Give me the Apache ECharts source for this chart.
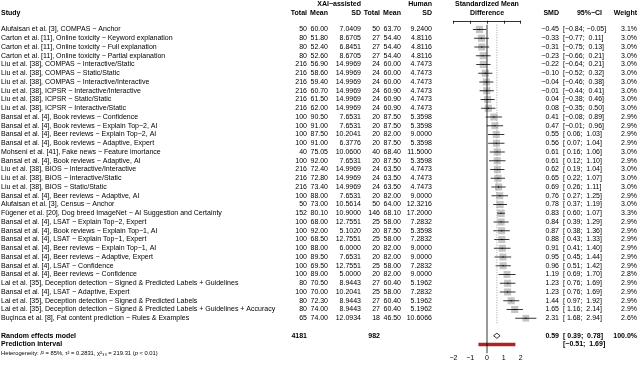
<!DOCTYPE html>
<html lang="en">
<head>
<meta charset="UTF-8">
<script src="https://cdn.jsdelivr.net/npm/echarts@6/dist/echarts.min.js"></script>
<style>html,body{margin:0;padding:0;background:#fff}#main{width:640px;height:367px}</style>
</head>
<body>
<div id="main"></div>
<script type="text/javascript">
// study rows, top to bottom
var studies = [
    'Alufaisan et al. [3], COMPAS − Anchor',
    'Carton et al. [11], Online toxicity − Keyword explanation',
    'Carton et al. [11], Online toxicity − Full explanation',
    'Carton et al. [11], Online toxicity − Partial explanation',
    'Liu et al. [38], COMPAS − Interactive/Static',
    'Liu et al. [38], COMPAS − Static/Static',
    'Liu et al. [38], COMPAS − Interactive/Interactive',
    'Liu et al. [38], ICPSR − Interactive/Interactive',
    'Liu et al. [38], ICPSR − Static/Static',
    'Liu et al. [38], ICPSR − Interactive/Static',
    'Bansal et al. [4], Book reviews − Confidence',
    'Bansal et al. [4], Book reviews − Explain Top−2, AI',
    'Bansal et al. [4], Beer reviews − Explain Top−2, AI',
    'Bansal et al. [4], Book reviews − Adaptive, Expert',
    'Mohseni et al. [41], Fake news − Feature imortance',
    'Bansal et al. [4], Book reviews − Adaptive, AI',
    'Liu et al. [38], BIOS − Interactive/Interactive',
    'Liu et al. [38], BIOS − Interactive/Static',
    'Liu et al. [38], BIOS − Static/Static',
    'Bansal et al. [4], Beer reviews − Adaptive, AI',
    'Alufaisan et al. [3], Census − Anchor',
    'Fügener et al. [20], Dog breed ImageNet − AI Suggestion and Certainty',
    'Bansal et al. [4], LSAT − Explain Top−2, Expert',
    'Bansal et al. [4], Book reviews − Explain Top−1, AI',
    'Bansal et al. [4], LSAT − Explain Top−1, Expert',
    'Bansal et al. [4], Beer reviews − Explain Top−1, AI',
    'Bansal et al. [4], Beer reviews − Adaptive, Expert',
    'Bansal et al. [4], LSAT − Confidence',
    'Bansal et al. [4], Beer reviews − Confidence',
    'Lai et al. [35], Deception detection − Signed & Predicted Labels + Guidelines',
    'Bansal et al. [4], LSAT − Adaptive, Expert',
    'Lai et al. [35], Deception detection − Signed & Predicted Labels',
    'Lai et al. [35], Deception detection − Signed & Predicted Labels + Guidelines + Accuracy',
    'Buçinca et al. [8], Fat content prediction − Rules & Examples'
];
var xaiTotal = [50, 80, 80, 80, 216, 216, 216, 216, 216, 216, 100, 100, 100, 100, 40, 100, 216, 216, 216, 100,
    50, 152, 100, 100, 100, 100, 100, 100, 100, 80, 100, 80, 80, 65];
var xaiMean = [60.00, 51.80, 52.40, 52.60, 56.90, 58.60, 59.40, 60.70, 61.50, 62.00, 90.50, 91.00, 87.50, 91.00,
    75.05, 92.00, 72.40, 72.80, 73.40, 88.00, 73.00, 80.10, 68.00, 92.00, 68.50, 88.00, 89.50, 69.50, 89.00,
    70.50, 70.00, 72.30, 74.00, 74.00];
var xaiSD = [7.0409, 8.6705, 6.8451, 8.6705, 14.9969, 14.9969, 14.9969, 14.9969, 14.9969, 14.9969, 7.6531,
    7.6531, 10.2041, 6.3776, 10.0600, 7.6531, 14.9969, 14.9969, 14.9969, 7.6531, 10.5614, 10.9000, 12.7551,
    5.1020, 12.7551, 6.0000, 7.6531, 12.7551, 5.0000, 8.9443, 10.2041, 8.9443, 8.9443, 12.0934];
var humTotal = [50, 27, 27, 27, 24, 24, 24, 24, 24, 24, 20, 20, 20, 20, 40, 20, 24, 24, 24, 20,
    50, 146, 25, 20, 25, 20, 20, 25, 20, 27, 25, 27, 27, 18];
var humMean = [63.70, 54.40, 54.40, 54.40, 60.00, 60.00, 60.00, 60.90, 60.90, 60.90, 87.50, 87.50, 82.00, 87.50,
    68.40, 87.50, 63.50, 63.50, 63.50, 82.00, 64.00, 68.10, 58.00, 87.50, 58.00, 82.00, 82.00, 58.00, 82.00,
    60.40, 58.00, 60.40, 60.40, 46.50];
var humSD = [9.2400, 4.8116, 4.8116, 4.8116, 4.7473, 4.7473, 4.7473, 4.7473, 4.7473, 4.7473, 5.3598, 5.3598,
    9.0000, 5.3598, 11.5000, 5.3598, 4.7473, 4.7473, 4.7473, 9.0000, 12.3216, 17.2000, 7.2832, 5.3598, 7.2832,
    9.0000, 9.0000, 7.2832, 9.0000, 5.1962, 7.2832, 5.1962, 5.1962, 10.6066];
var smd = [-0.45, -0.33, -0.31, -0.23, -0.22, -0.10, -0.04, -0.01, 0.04, 0.08, 0.41, 0.47, 0.55, 0.56, 0.61, 0.61,
    0.62, 0.65, 0.69, 0.76, 0.78, 0.83, 0.84, 0.87, 0.88, 0.91, 0.95, 0.96, 1.19, 1.23, 1.23, 1.44, 1.65, 2.31];
var ciLow = [-0.84, -0.77, -0.75, -0.66, -0.64, -0.52, -0.46, -0.44, -0.38, -0.35, -0.08, -0.01, 0.06, 0.07, 0.16,
    0.12, 0.19, 0.22, 0.26, 0.27, 0.37, 0.60, 0.39, 0.38, 0.43, 0.41, 0.45, 0.51, 0.69, 0.76, 0.76, 0.97, 1.16, 1.68];
var ciHigh = [-0.05, 0.11, 0.13, 0.21, 0.21, 0.32, 0.38, 0.41, 0.46, 0.50, 0.89, 0.96, 1.03, 1.04, 1.06, 1.10,
    1.04, 1.07, 1.11, 1.25, 1.19, 1.07, 1.29, 1.36, 1.33, 1.40, 1.44, 1.42, 1.70, 1.69, 1.69, 1.92, 2.14, 2.94];
var weight = [3.1, 3.0, 3.0, 3.0, 3.0, 3.0, 3.0, 3.0, 3.0, 3.0, 2.9, 2.9, 2.9, 2.9, 3.0, 2.9, 3.0, 3.0, 3.0, 2.9,
    3.0, 3.3, 2.9, 2.9, 2.9, 2.9, 2.9, 2.9, 2.8, 2.9, 2.9, 2.9, 2.9, 2.6];

// pooled results
var reXaiTotal = 4181;
var reHumTotal = 982;
var reSmd = 0.59, reLow = 0.39, reHigh = 0.78, reWeight = 100.0;
var piLow = -0.51, piHigh = 1.69;
var hetI2 = 85, hetTau2 = 0.2831, hetChi2 = 219.31, hetDf = 33;
var axisTicks = [-2, -1, 0, 1, 2];

// layout
var W = 640, H = 367;
var FONT = '"Liberation Sans", Arial, Helvetica, sans-serif';
var FS = 7;
var ROW_H = 8.75;
var FIRST_ROW_PX = 29.5;
var Y0 = 1 - FIRST_ROW_PX / ROW_H;
var N = studies.length;
var ROW_RE = N + 2, ROW_PI = N + 3, ROW_HET = N + 4;
var AXIS_PX = FIRST_ROW_PX + (ROW_HET - 1) * ROW_H - 2;
var ZERO_PX = 487, PX_UNIT = 16.8;
var BOX_MAX = 7.5;

var COL = {study: 1, xt: 307, xm: 328, xs: 361, ht: 380, hm: 401, hs: 432,
           forest: ZERO_PX, smd: 559, ci: 563, ciHead: 602, w: 637};

function fmt(v, d) {
    return (v < 0 ? '\u2212' : '') + Math.abs(v).toFixed(d);
}
function padAll(arr) {
    var m = 0;
    arr.forEach(function (s) { m = Math.max(m, s.length); });
    return arr.map(function (s) { while (s.length < m) s = ' ' + s; return s; });
}

var loStr = padAll(ciLow.concat([reLow, piLow]).map(function (v) { return fmt(v, 2); }));
var hiStr = padAll(ciHigh.concat([reHigh, piHigh]).map(function (v) { return fmt(v, 2); }));
var ciStr = loStr.map(function (s, i) { return '[' + s + '; ' + hiStr[i] + ']'; });

var rows = studies.map(function (s, i) { return i + 1; });

function textLayer(x, ys, texts, align, opt) {
    opt = opt || {};
    return {
        type: 'custom', xAxisIndex: 0, yAxisIndex: 0, silent: true, clip: false,
        data: ys.map(function (y) { return [x, y]; }),
        renderItem: function (params, api) {
            var p = api.coord([api.value(0), api.value(1)]);
            var style = {
                text: texts[params.dataIndex],
                align: align, verticalAlign: 'middle',
                textAlign: align, textVerticalAlign: 'middle',
                font: (opt.bold ? 'bold ' : '') + (opt.size || FS) + 'px ' + FONT,
                fill: '#000'
            };
            if (opt.rich) style.rich = opt.rich;
            return {type: 'text', x: p[0], y: p[1], style: style};
        }
    };
}

var series = [];
// headers
var H1 = -1.9, H2 = -0.85;
series.push(textLayer(COL.xs, [H1], ['XAI\u2212assisted'], 'right', {bold: true}));
series.push(textLayer(COL.hs, [H1], ['Human'], 'right', {bold: true}));
series.push(textLayer(COL.forest, [H1, H2], ['Standardized Mean', 'Difference'], 'center', {bold: true}));
series.push(textLayer(COL.study, [H2], ['Study'], 'left', {bold: true}));
series.push(textLayer(COL.xt, [H2], ['Total'], 'right', {bold: true}));
series.push(textLayer(COL.xm, [H2], ['Mean'], 'right', {bold: true}));
series.push(textLayer(COL.xs, [H2], ['SD'], 'right', {bold: true}));
series.push(textLayer(COL.ht, [H2], ['Total'], 'right', {bold: true}));
series.push(textLayer(COL.hm, [H2], ['Mean'], 'right', {bold: true}));
series.push(textLayer(COL.hs, [H2], ['SD'], 'right', {bold: true}));
series.push(textLayer(COL.smd, [H2], ['SMD'], 'right', {bold: true}));
series.push(textLayer(COL.ciHead, [H2], ['95%\u2212CI'], 'right', {bold: true}));
series.push(textLayer(COL.w, [H2], ['Weight'], 'right', {bold: true}));

// study columns
series.push(textLayer(COL.study, rows, studies, 'left'));
series.push(textLayer(COL.xt, rows, xaiTotal.map(String), 'right'));
series.push(textLayer(COL.xm, rows, xaiMean.map(function (v) { return v.toFixed(2); }), 'right'));
series.push(textLayer(COL.xs, rows, xaiSD.map(function (v) { return v.toFixed(4); }), 'right'));
series.push(textLayer(COL.ht, rows, humTotal.map(String), 'right'));
series.push(textLayer(COL.hm, rows, humMean.map(function (v) { return v.toFixed(2); }), 'right'));
series.push(textLayer(COL.hs, rows, humSD.map(function (v) { return v.toFixed(4); }), 'right'));
series.push(textLayer(COL.smd, rows, smd.map(function (v) { return fmt(v, 2); }), 'right'));
series.push(textLayer(COL.ci, rows, ciStr.slice(0, N), 'left'));
series.push(textLayer(COL.w, rows, weight.map(function (v) { return v.toFixed(1) + '%'; }), 'right'));

// pooled rows
series.push(textLayer(COL.study, [ROW_RE, ROW_PI], ['Random effects model', 'Prediction interval'], 'left', {bold: true}));
series.push(textLayer(COL.xt, [ROW_RE], [String(reXaiTotal)], 'right', {bold: true}));
series.push(textLayer(COL.ht, [ROW_RE], [String(reHumTotal)], 'right', {bold: true}));
series.push(textLayer(COL.smd, [ROW_RE], [fmt(reSmd, 2)], 'right', {bold: true}));
series.push(textLayer(COL.ci, [ROW_RE, ROW_PI], [ciStr[N], ciStr[N + 1]], 'left', {bold: true}));
series.push(textLayer(COL.w, [ROW_RE], [reWeight.toFixed(1) + '%'], 'right', {bold: true}));

var HS = 5.8;
var hetText = '{n|Heterogeneity: }{i|I}{n|\u00b2 = ' + hetI2 + '%, \u03c4\u00b2 = ' + hetTau2.toFixed(4) +
    ', \u03c7\u00b2}{n|' + String(hetDf).split('').map(function (c) { return String.fromCharCode(0x2080 + (+c)); }).join('') +
    ' = ' + hetChi2.toFixed(2) + ' (}{i|p}{n| < 0.01)}';
series.push(textLayer(COL.study, [ROW_HET], [hetText], 'left', {
    size: HS,
    rich: {
        n: {fontSize: HS, fontFamily: FONT, fill: '#000', color: '#000'},
        i: {fontSize: HS, fontFamily: FONT, fontStyle: 'italic', fill: '#000', color: '#000'}
    }
}));

// forest: reference lines
series.push({
    type: 'line', xAxisIndex: 1, yAxisIndex: 1, silent: true, symbol: 'none', clip: false,
    data: [[0, 0.45], [0, ROW_HET]],
    lineStyle: {color: '#000', width: 0.8}
});
series.push({
    type: 'line', xAxisIndex: 1, yAxisIndex: 1, silent: true, symbol: 'none', clip: false,
    data: [[reSmd, 0.45], [reSmd, N + 0.6]],
    lineStyle: {color: '#888', width: 0.8, type: [1, 1.5]}
});

// forest: studies
var maxW = Math.max.apply(null, weight);
series.push({
    type: 'custom', xAxisIndex: 1, yAxisIndex: 1, silent: true, clip: false,
    data: rows.map(function (r, i) { return [r, smd[i], ciLow[i], ciHigh[i], weight[i]]; }),
    renderItem: function (params, api) {
        var y = api.value(0);
        var c = api.coord([api.value(1), y]);
        var lo = api.coord([api.value(2), y]);
        var hi = api.coord([api.value(3), y]);
        var s = BOX_MAX * Math.sqrt(api.value(4) / maxW);
        return {type: 'group', children: [
            {type: 'rect', shape: {x: c[0] - s / 2, y: c[1] - s / 2, width: s, height: s}, style: {fill: '#c4c4c4'}},
            {type: 'line', shape: {x1: lo[0], y1: c[1], x2: hi[0], y2: c[1]}, style: {stroke: '#000', lineWidth: 0.8}},
            {type: 'rect', shape: {x: c[0] - 0.6, y: c[1] - 0.6, width: 1.2, height: 1.2}, style: {fill: '#000'}}
        ]};
    }
});

// forest: pooled diamond and prediction interval
series.push({
    type: 'custom', xAxisIndex: 1, yAxisIndex: 1, silent: true, clip: false,
    data: [[ROW_RE, reSmd, reLow, reHigh]],
    renderItem: function (params, api) {
        var y = api.value(0);
        var c = api.coord([api.value(1), y]);
        var lo = api.coord([api.value(2), y]);
        var hi = api.coord([api.value(3), y]);
        var h = 2.6;
        return {type: 'polygon', shape: {points: [[lo[0], c[1]], [c[0], c[1] - h], [hi[0], c[1]], [c[0], c[1] + h]]},
            style: {fill: '#fff', stroke: '#000', lineWidth: 0.8}};
    }
});
series.push({
    type: 'custom', xAxisIndex: 1, yAxisIndex: 1, silent: true, clip: false,
    data: [[ROW_PI, piLow, piHigh]],
    renderItem: function (params, api) {
        var y = api.value(0);
        var lo = api.coord([api.value(1), y]);
        var hi = api.coord([api.value(2), y]);
        return {type: 'rect', shape: {x: lo[0], y: lo[1] - 1.8, width: hi[0] - lo[0], height: 3.6},
            style: {fill: '#b22222'}};
    }
});

var chart = echarts.init(document.getElementById('main'), null, {renderer: 'canvas'});
chart.setOption({
    animation: false,
    backgroundColor: '#fff',
    textStyle: {fontFamily: FONT},
    grid: [
        {left: 0, top: 0, width: W, height: H, outerBoundsMode: 'none'},
        {left: ZERO_PX + axisTicks[0] * PX_UNIT, top: 0,
         width: (axisTicks[axisTicks.length - 1] - axisTicks[0]) * PX_UNIT, height: AXIS_PX, outerBoundsMode: 'none'}
    ],
    xAxis: [
        {gridIndex: 0, type: 'value', min: 0, max: W, show: false},
        {gridIndex: 1, type: 'value', min: axisTicks[0], max: axisTicks[axisTicks.length - 1], interval: 1,
         axisLine: {show: true, lineStyle: {color: '#000', width: 0.8}},
         axisTick: {show: true, length: 3, lineStyle: {color: '#000', width: 0.8}},
         axisLabel: {fontSize: FS, color: '#000', margin: 3, fontFamily: FONT,
                     formatter: function (v) { return fmt(v, 0); }},
         splitLine: {show: false}}
    ],
    yAxis: [
        {gridIndex: 0, type: 'value', inverse: true, min: Y0, max: Y0 + H / ROW_H, show: false},
        {gridIndex: 1, type: 'value', inverse: true, min: Y0, max: Y0 + AXIS_PX / ROW_H, show: false}
    ],
    series: series
});
</script>
</body>
</html>
